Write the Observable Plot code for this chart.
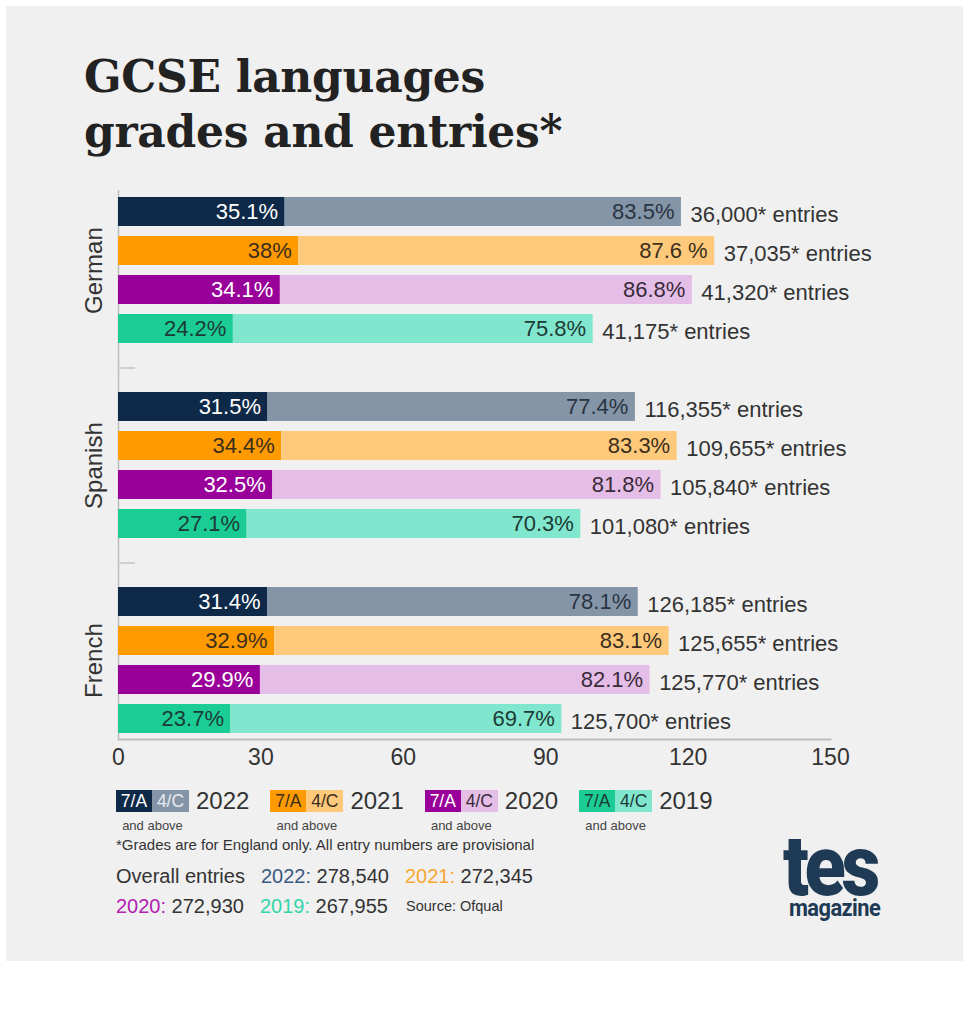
<!DOCTYPE html>
<html>
<head>
<meta charset="utf-8">
<script src="https://cdn.jsdelivr.net/npm/d3@7"></script>
<script src="https://cdn.jsdelivr.net/npm/@observablehq/plot@0.6"></script>
<style>
  html, body { margin: 0; padding: 0; background: #ffffff; }
  body { width: 967px; height: 1012px; position: relative; overflow: hidden;
         font-family: "Liberation Sans", Arial, sans-serif; color: #333; }
  #panel { position: absolute; left: 6px; top: 6px; width: 957px; height: 955px; background: #f0f0f0; }
  #title { position: absolute; left: 84px; top: 49px; margin: 0;
           font-family: "DejaVu Serif", serif; font-weight: bold; font-size: 44px;
           line-height: 55px; color: #222; letter-spacing: -0.3px; }
  #chart { position: absolute; left: 0; top: 180px; }
  #legend { position: absolute; left: 116px; top: 790px; display: flex; gap: 21px; }
  .lg { position: relative; display: flex; align-items: center; }
  .bx { height: 22px; line-height: 22px; font-size: 17.5px; padding: 0 2px; box-sizing: border-box; text-align: center; }
  .yr { font-size: 24px; color: #333; margin-left: 7px; line-height: 22px; }
  .ab { position: absolute; top: 28px; font-size: 13px; color: #444; width: 73px; text-align: center; white-space: nowrap; }
  #note { position: absolute; left: 116px; top: 836px; font-size: 15px; color: #333; }
  .ov { position: absolute; font-size: 20px; color: #333; line-height: 20px; }
  #source { position: absolute; left: 406px; top: 898px; font-size: 14.5px; color: #333; }
  #logo { position: absolute; left: 0; top: 0; color: #1e3a54; font-family: Roboto, "Liberation Sans", sans-serif; }
  #logo .tes { position: absolute; left: 783px; top: 836px; font-size: 86px; font-weight: 900; letter-spacing: -5px;
               line-height: 60px; white-space: nowrap; transform: scaleX(0.88); transform-origin: left; }
  #logo .mag { position: absolute; left: 789px; top: 899px; font-size: 23px; font-weight: 700; letter-spacing: -0.6px;
               line-height: 20px; white-space: nowrap; transform: scaleX(0.95); transform-origin: left; }
</style>
</head>
<body>
<div id="panel"></div>
<h1 id="title">GCSE languages<br>grades and entries*</h1>
<div id="chart"></div>
<div id="legend"></div>
<div id="note">*Grades are for England only. All entry numbers are provisional</div>
<div id="overall"></div>
<div id="source">Source: Ofqual</div>
<div id="logo"><span class="tes">tes</span><span class="mag">magazine</span></div>
<script>
// ---- data ----
const languages = ["German", "Spanish", "French"];
const years = ["2022", "2021", "2020", "2019"];
// grade 7/A and above (%) — rows follow languages, columns follow years
const grade7A = [
  [35.1, 38, 34.1, 24.2],
  [31.5, 34.4, 32.5, 27.1],
  [31.4, 32.9, 29.9, 23.7]
];
// grade 4/C and above (%)
const grade4C = [
  [83.5, 87.6, 86.8, 75.8],
  [77.4, 83.3, 81.8, 70.3],
  [78.1, 83.1, 82.1, 69.7]
];
// labels exactly as printed
const grade4CLabels = [
  ["83.5%", "87.6 %", "86.8%", "75.8%"],
  ["77.4%", "83.3%", "81.8%", "70.3%"],
  ["78.1%", "83.1%", "82.1%", "69.7%"]
];
const entries = [
  [36000, 37035, 41320, 41175],
  [116355, 109655, 105840, 101080],
  [126185, 125655, 125770, 125700]
];
const overallEntries = [278540, 272345, 272930, 267955];
const xTicks = [0, 30, 60, 90, 120, 150];
const gradeKeys = ["7/A", "4/C"];

// ---- styles ----
const darkColor  = {"2022": "#0e2a48", "2021": "#ff9a00", "2020": "#990099", "2019": "#1bcc95"};
const lightColor = {"2022": "#8595a8", "2021": "#ffc97b", "2020": "#e4bee6", "2019": "#80e6cd"};
const darkText   = {"2022": "#ffffff", "2021": "#3a2e1c", "2020": "#ffffff", "2019": "#1d3b35"};
const lightText  = {"2022": "#2a3442", "2021": "#3a2e1c", "2020": "#3a2a3a", "2019": "#1d3b35"};
const lightBoxText = {"2022": "#e6ebf1", "2021": "#3a2e1c", "2020": "#3a2a3a", "2019": "#1d3b35"};
const overallColor = {"2022": "#3b5a82", "2021": "#f7a833", "2020": "#b320b3", "2019": "#33d6a8"};

// ---- table ----
const rows = [];
languages.forEach((lang, i) => years.forEach((year, j) => rows.push({
  lang, year, key: `${lang} ${year}`,
  a: grade7A[i][j], c: grade4C[i][j], cLabel: grade4CLabels[i][j], entries: entries[i][j]
})));
const gaps = languages.slice(1).map((l, i) => `gap ${i}`);
const yDomain = [];
languages.forEach((lang, i) => {
  if (i > 0) yDomain.push(gaps[i - 1]);
  years.forEach(y => yDomain.push(`${lang} ${y}`));
});

const height = 600, marginTop = 10, marginBottom = 41;
const pInner = 0.26, pOuter = 0.13;
const step = (height - marginTop - marginBottom) / (yDomain.length - pInner + 2 * pOuter);
const fmt = d3.format(",");

const chart = Plot.plot({
  width: 967,
  height,
  marginLeft: 118,
  marginRight: 137,
  marginTop,
  marginBottom,
  style: {background: "transparent", fontFamily: "'Liberation Sans', Arial, sans-serif", fontSize: "23px", color: "#333", overflow: "visible"},
  x: {domain: [0, 150], ticks: xTicks, tickSize: 0, tickPadding: 9, label: null},
  y: {domain: yDomain, paddingInner: pInner, paddingOuter: pOuter, axis: null},
  color: {type: "identity"},
  marks: [
    Plot.frame({anchor: "bottom", stroke: "#bdbdbd", strokeWidth: 1.8}),
    Plot.ruleX([0], {stroke: "#bdbdbd", strokeWidth: 1.5}),
    Plot.ruleY(gaps, {y: d => d, x1: 0, x2: 3.6, stroke: "#c6c6c6", strokeWidth: 1.5}),
    Plot.barX(rows, {y: "key", x1: 0, x2: "a", fill: d => darkColor[d.year]}),
    Plot.barX(rows, {y: "key", x1: "a", x2: d => d.a + d.c, fill: d => lightColor[d.year]}),
    Plot.text(rows, {y: "key", x: "a", text: d => `${d.a}%`, textAnchor: "end", dx: -7,
      fill: d => darkText[d.year], fontSize: 22}),
    Plot.text(rows, {y: "key", x: d => d.a + d.c, text: "cLabel", textAnchor: "end", dx: -7,
      fill: d => lightText[d.year], fontSize: 22}),
    Plot.text(rows, {y: "key", x: d => d.a + d.c, text: d => `${fmt(d.entries)}* entries`,
      textAnchor: "start", dx: 9, dy: 3, fill: "#333", fontSize: 22}),
    Plot.text(languages, {y: l => `${l} 2021`, x: 0, text: d => d, rotate: -90,
      dx: -24, dy: step / 2, fill: "#333", fontSize: 24})
  ]
});
document.getElementById("chart").appendChild(chart);

// ---- legend ----
const legend = document.getElementById("legend");
years.forEach(y => {
  const g = document.createElement("div");
  g.className = "lg";
  const b1 = document.createElement("div");
  b1.className = "bx"; b1.style.width = "36px";
  b1.style.background = darkColor[y]; b1.style.color = darkText[y]; b1.textContent = gradeKeys[0];
  const b2 = document.createElement("div");
  b2.className = "bx"; b2.style.width = "37px";
  b2.style.background = lightColor[y]; b2.style.color = lightBoxText[y]; b2.textContent = gradeKeys[1];
  const t = document.createElement("div");
  t.className = "yr"; t.textContent = y;
  const ab = document.createElement("div");
  ab.className = "ab"; ab.textContent = "and above";
  g.append(b1, b2, t, ab);
  legend.appendChild(g);
});

// ---- overall entries ----
const ov = document.getElementById("overall");
const ovPos = [[261, 866], [405, 866], [116, 896], [260, 896]];
const lab = document.createElement("div");
lab.className = "ov"; lab.style.left = "116px"; lab.style.top = "866px"; lab.textContent = "Overall entries";
ov.appendChild(lab);
years.forEach((y, i) => {
  const d = document.createElement("div");
  d.className = "ov"; d.style.left = ovPos[i][0] + "px"; d.style.top = ovPos[i][1] + "px";
  d.innerHTML = `<span style="color:${overallColor[y]}">${y}:</span> ${fmt(overallEntries[i])}`;
  ov.appendChild(d);
});
</script>
</body>
</html>
